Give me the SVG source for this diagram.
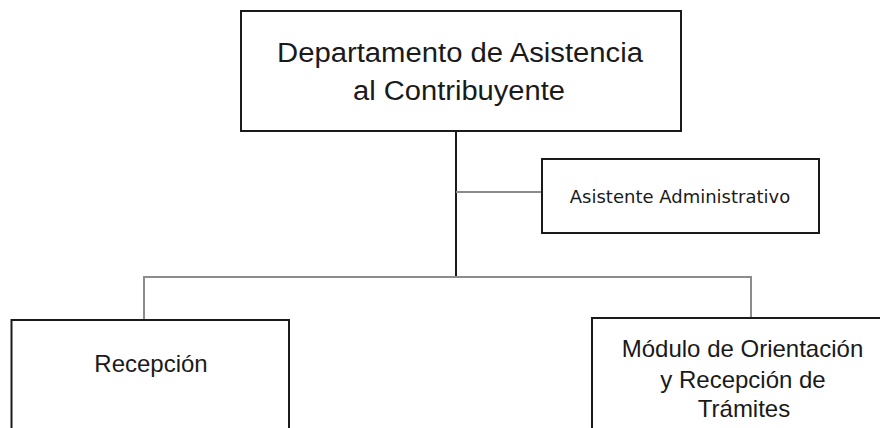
<svg xmlns="http://www.w3.org/2000/svg" width="880" height="428" viewBox="0 0 880 428">
<style>
.box{fill:#fff;stroke:#1a1a1a;stroke-width:2}
.t{font-family:"Liberation Sans",Arial,sans-serif;fill:#1a1a1a;text-anchor:middle}
.d{font-family:"DejaVu Sans",Verdana,sans-serif;fill:#1a1a1a;text-anchor:middle}
.main{stroke:#1a1a1a;stroke-width:2;fill:none}
.sub{stroke:#8c8c8c;stroke-width:2;fill:none}
</style>
<rect width="880" height="428" fill="#fff"/>
<g id="connectors">
<line class="main" x1="456" y1="131" x2="456" y2="277"/>
<line class="sub" x1="456" y1="192" x2="542" y2="192"/>
<polyline class="sub" points="144,320 144,277 751,277 751,318"/>
</g>
<g id="departamento">
<rect class="box" x="241" y="11" width="440" height="120"/>
<text class="t" x="460" y="62" font-size="27" textLength="366" lengthAdjust="spacingAndGlyphs">Departamento de Asistencia</text>
<text class="t" x="459" y="100" font-size="27" textLength="212" lengthAdjust="spacingAndGlyphs">al Contribuyente</text>
</g>
<g id="asistente">
<rect class="box" x="542" y="159" width="277" height="74"/>
<text class="d" x="680" y="203" font-size="18">Asistente Administrativo</text>
</g>
<g id="recepcion">
<rect class="box" x="11.5" y="320" width="277.5" height="120"/>
<text class="t" x="151" y="372" font-size="24">Recepción</text>
</g>
<g id="modulo">
<rect class="box" x="592" y="318" width="300" height="120"/>
<text class="t" x="742.5" y="356.5" font-size="24">Módulo de Orientación</text>
<text class="t" x="743" y="388" font-size="24">y Recepción de</text>
<text class="t" x="744" y="416.5" font-size="24">Trámites</text>
</g>
</svg>
